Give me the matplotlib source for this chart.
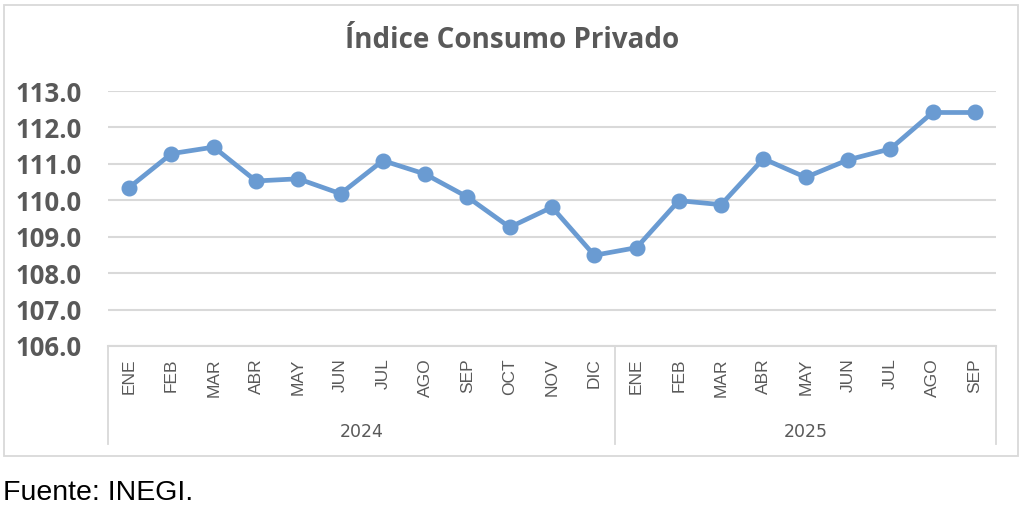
import matplotlib.pyplot as plt
from matplotlib.patches import Rectangle
import matplotlib.transforms as mtransforms

# Data
months = ['ENE', 'FEB', 'MAR', 'ABR', 'MAY', 'JUN', 'JUL', 'AGO', 'SEP', 'OCT', 'NOV', 'DIC',
          'ENE', 'FEB', 'MAR', 'ABR', 'MAY', 'JUN', 'JUL', 'AGO', 'SEP']
years = ['2024', '2025']
year_counts = [12, 9]
values = [110.35, 111.28, 111.46, 110.53, 110.59, 110.18, 111.09, 110.72, 110.09, 109.26, 109.81, 108.49,
          108.70, 109.99, 109.88, 111.14, 110.63, 111.11, 111.41, 112.41, 112.41]

gray = '#595959'
grid = '#d9d9d9'
blue = '#6a9bd2'

W, H = 1024, 515
fig = plt.figure(figsize=(W / 100, H / 100), dpi=100)

# Outer chart border
fig.patches.append(Rectangle((4 / W, 1 - 456 / H), (1018 - 4) / W, (456 - 5) / H,
                             transform=fig.transFigure, fill=False, edgecolor=grid, linewidth=1.3))

ax = fig.add_axes([108 / W, 1 - 346 / H, (996 - 108) / W, (346 - 91) / H])
x = list(range(len(values)))
ax.plot(x, values, color=blue, linewidth=3.4, marker='o', markersize=10.5, zorder=3, clip_on=False)

ax.set_xlim(-0.5, len(values) - 0.5)
ax.set_ylim(106, 113)
ax.set_yticks([106 + i for i in range(8)])
ax.set_yticklabels([f'{106 + i:.1f}' for i in range(8)], fontsize=18.5, fontweight='bold',
                   color=gray, family='Open Sans')
ax.yaxis.grid(True, color=grid, linewidth=1.5)
ax.set_axisbelow(True)
for s in ['top', 'right', 'left']:
    ax.spines[s].set_visible(False)
ax.spines['bottom'].set_color(grid)
ax.spines['bottom'].set_linewidth(1.5)
ax.tick_params(axis='y', length=0, pad=19)

ax.set_xticks(x)
ax.set_xticklabels(months, rotation=90, fontsize=12.5, color=gray, family='Liberation Sans', va='top')
ax.tick_params(axis='x', length=0, pad=9)

# Year group labels and separators
trans = mtransforms.blended_transform_factory(ax.transData, ax.transAxes)
sep_bottom = -(444 - 346) / (346 - 91)
start = -0.5
ax.plot([start, start], [0, sep_bottom], transform=trans, color=grid, linewidth=1.3, clip_on=False)
for yr, n in zip(years, year_counts):
    end = start + n
    ax.plot([end, end], [0, sep_bottom], transform=trans, color=grid, linewidth=1.3, clip_on=False)
    ax.text((start + end) / 2, -(432 - 346) / (346 - 91), yr, transform=trans, ha='center', va='center',
            fontsize=12.5, color=gray)
    start = end

fig.text(512 / W, 1 - 40 / H, 'Índice Consumo Privado', ha='center', va='center',
         fontsize=20, fontweight='bold', color=gray, family='Open Sans')
fig.text(3 / W, 1 - 493 / H, 'Fuente: INEGI.', ha='left', va='center', fontsize=20.5,
         family='Liberation Sans', color='black')

fig.savefig('out.png', dpi=100)
